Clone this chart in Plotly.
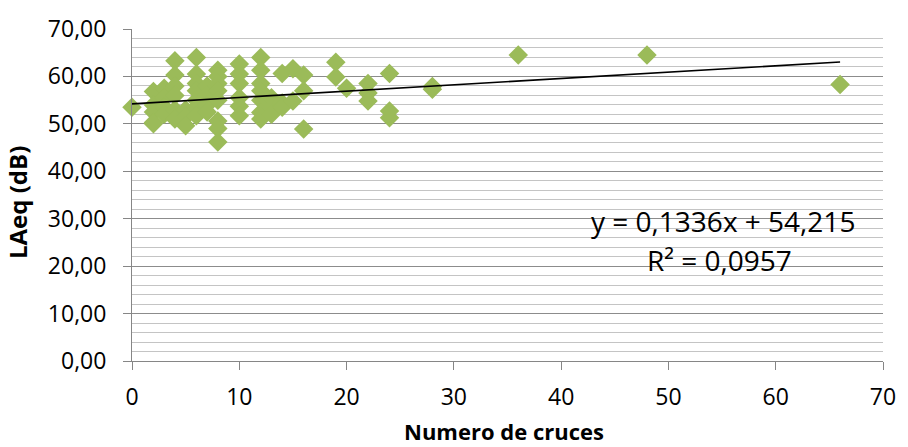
import plotly.graph_objects as go

# Number of crossings per site and the measured equivalent level LAeq (dB)
cruces = [
    0,
    2, 2, 2, 2, 2,
    3, 3, 3, 3,
    4, 4, 4, 4, 4, 4,
    5, 5, 5,
    6, 6, 6, 6, 6, 6, 6,
    7, 7, 7, 7,
    8, 8, 8, 8, 8, 8, 8, 8,
    10, 10, 10, 10, 10, 10,
    12, 12, 12, 12, 12, 12, 12,
    13, 13, 13,
    14, 14, 14,
    15, 15,
    16, 16, 16,
    19, 19,
    20,
    22, 22, 22,
    24, 24, 24,
    28, 28,
    36,
    48,
    66,
]
laeq = [
    53.5,
    56.8, 54.0, 52.5, 50.3, 50.0,
    57.5, 55.5, 53.5, 52.0,
    63.3, 60.3, 58.0, 56.0, 53.0, 51.0,
    53.0, 51.5, 49.6,
    64.0, 60.5, 58.5, 57.0, 55.0, 53.5, 51.7,
    58.0, 56.0, 54.0, 52.5,
    61.3, 60.0, 58.5, 57.0, 55.0, 50.6, 49.0, 46.2,
    62.6, 60.5, 58.5, 55.5, 53.7, 51.7,
    64.0, 61.3, 58.5, 57.0, 55.0, 52.4, 51.0,
    55.5, 53.4, 52.0,
    60.6, 54.4, 53.5,
    61.6, 54.8,
    60.3, 57.0, 48.9,
    63.0, 59.9,
    57.5,
    58.5, 56.5, 54.8,
    60.6, 52.7, 51.3,
    57.9, 57.3,
    64.5,
    64.5,
    58.3,
]

# Linear trend reported for the series
pendiente = 0.1336
intercepto = 54.215
r2 = 0.0957
trend_x = [min(cruces), max(cruces)]
trend_y = [pendiente * v + intercepto for v in trend_x]

x_ticks = [0, 10, 20, 30, 40, 50, 60, 70]
y_ticks = [0, 10, 20, 30, 40, 50, 60, 70]

FONT = "Open Sans"
GREEN = "#9BBB59"
AXIS_GREY = "#868686"

fig = go.Figure()
fig.add_trace(go.Scatter(
    x=cruces, y=laeq, mode="markers",
    marker=dict(symbol="diamond", size=15, color=GREEN, line=dict(width=0)),
    cliponaxis=False, showlegend=False,
))
fig.add_trace(go.Scatter(
    x=trend_x, y=trend_y, mode="lines",
    line=dict(color="black", width=1.6),
    showlegend=False,
))

fig.update_layout(
    width=908, height=447,
    margin=dict(l=132, r=17, t=21, b=86),
    paper_bgcolor="white", plot_bgcolor="white",
    separators=",.",
    font=dict(family=FONT, color="black", size=23),
    xaxis=dict(
        range=[0, 70], tickvals=x_ticks, showgrid=False, zeroline=False,
        showline=True, linecolor=AXIS_GREY, linewidth=1,
        ticks="outside", ticklen=8, tickcolor=AXIS_GREY,
        ticklabelstandoff=7,
        tickfont=dict(family=FONT, size=23),
    ),
    yaxis=dict(
        range=[0, 70], tickvals=y_ticks, tickformat=".2f",
        showgrid=True, gridcolor="#8C8C8C", gridwidth=1, zeroline=False,
        showline=True, linecolor=AXIS_GREY, linewidth=1,
        ticks="outside", ticklen=8, tickcolor=AXIS_GREY,
        ticklabelstandoff=12,
        tickfont=dict(family=FONT, size=23),
        minor=dict(dtick=2, showgrid=True, gridcolor="#C4C4C4", gridwidth=1),
    ),
    annotations=[
        dict(text="<b>Numero de cruces</b>", xref="paper", yref="paper",
             x=0.495, y=0, yanchor="middle", yshift=-70, showarrow=False,
             font=dict(family=FONT, size=22)),
        dict(text="<b>LAeq (dB)</b>", xref="paper", yref="paper",
             x=0, y=0.5, xanchor="center", xshift=-115, yshift=-8,
             textangle=-90, showarrow=False, font=dict(family=FONT, size=24)),
        dict(text=f"y = {pendiente:.4f}x + {intercepto:.3f}".replace(".", ","),
             x=55.1, y=28.6, yshift=4, xref="x", yref="y", showarrow=False,
             font=dict(family=FONT, size=28)),
        dict(text=f"R² = {r2:.4f}".replace(".", ","),
             x=54.8, y=20.4, yshift=4, xref="x", yref="y", showarrow=False,
             font=dict(family=FONT, size=28)),
    ],
)

fig.write_html("out.html")
